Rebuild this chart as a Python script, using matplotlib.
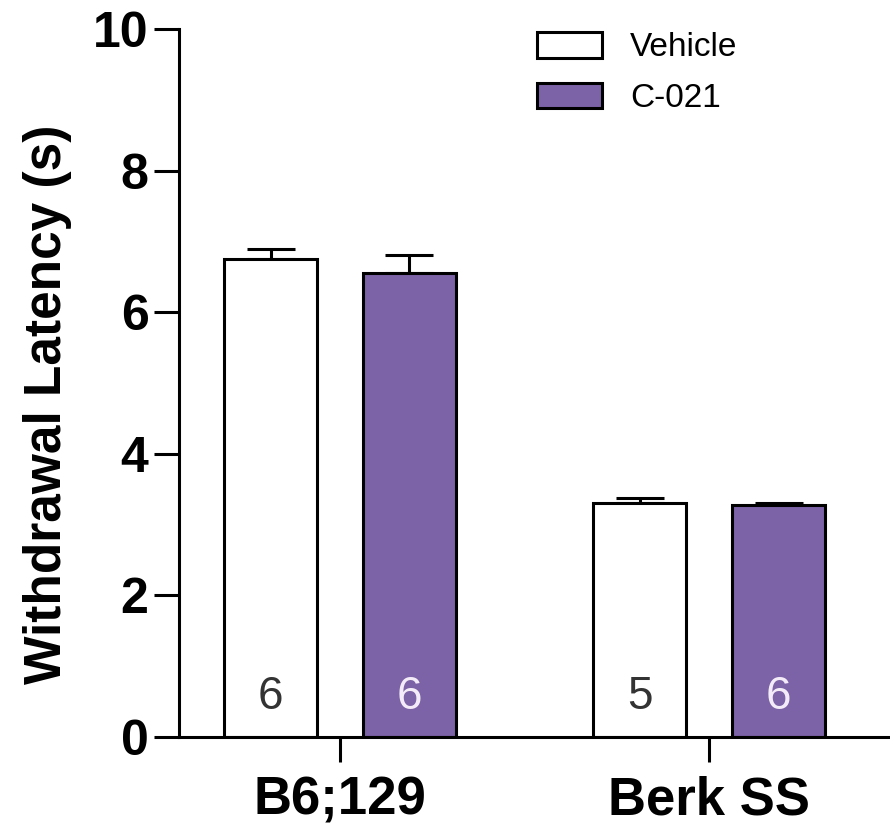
import matplotlib
matplotlib.use("Agg")
import matplotlib.pyplot as plt
from matplotlib.patches import Patch
import numpy as np

# Data
strains = ["B6;129", "Berk SS"]
treatments = ["Vehicle", "C-021"]
vehicle_mean = [6.75, 3.30]
vehicle_sem = [0.14, 0.07]
c021_mean = [6.55, 3.28]
c021_sem = [0.26, 0.03]
vehicle_n = [6, 5]
c021_n = [6, 6]
y_ticks = [0, 2, 4, 6, 8, 10]

purple = "#7C62A6"

plt.rcParams["font.family"] = ["Liberation Sans", "DejaVu Sans"]

fig = plt.figure(figsize=(8.9, 8.26), dpi=100)
ax = fig.add_axes([179 / 890, 89 / 826, 711 / 890, 708 / 826])

x = np.arange(len(strains))
offset = 0.188
width = 0.252
lw = 2.2

ax.bar(x - offset, vehicle_mean, width, color="white", edgecolor="black",
       linewidth=lw, zorder=3, label=treatments[0])
ax.bar(x + offset, c021_mean, width, color=purple, edgecolor="black",
       linewidth=lw, zorder=3, label=treatments[1])

ax.errorbar(x - offset, vehicle_mean, yerr=[np.zeros(len(x)), vehicle_sem],
            fmt="none", ecolor="black", elinewidth=lw, capsize=17, capthick=lw, zorder=2)
ax.errorbar(x + offset, c021_mean, yerr=[np.zeros(len(x)), c021_sem],
            fmt="none", ecolor="black", elinewidth=lw, capsize=17, capthick=lw, zorder=2)

# sample sizes inside bars
for xi, n in zip(x - offset, vehicle_n):
    ax.text(xi, 0.56, str(n), ha="center", va="center", fontsize=33,
            color="#333333", zorder=4)
for xi, n in zip(x + offset, c021_n):
    ax.text(xi, 0.56, str(n), ha="center", va="center", fontsize=33,
            color="#F3ECF8", zorder=4)

ax.set_ylim(0, 10)
ax.set_xlim(-0.436, 1.49)
ax.set_yticks(y_ticks)
ax.set_yticklabels([str(t) for t in y_ticks])
ax.set_xticks(x)
ax.set_xticklabels(strains)

for s in ["top", "right"]:
    ax.spines[s].set_visible(False)
for s in ["left", "bottom"]:
    ax.spines[s].set_linewidth(lw)
    ax.spines[s].set_zorder(5)

ax.tick_params(axis="both", length=18, width=lw, direction="out")
ax.tick_params(axis="y", pad=4, labelsize=36)
ax.tick_params(axis="x", pad=10, labelsize=38)
for lab in ax.get_yticklabels() + ax.get_xticklabels():
    lab.set_fontweight("bold")

ax.set_ylabel("Withdrawal Latency (s)", fontsize=37, fontweight="bold")
ax.yaxis.set_label_coords(-0.150, 0.47)

handles = [Patch(facecolor="white", edgecolor="black", linewidth=lw),
           Patch(facecolor=purple, edgecolor="black", linewidth=lw)]
ax.legend(handles, treatments, loc="upper left",
          bbox_to_anchor=(537 / 890, 1 - 32 / 826), bbox_transform=fig.transFigure,
          frameon=False, fontsize=24, handlelength=1.95, handleheight=0.8,
          labelspacing=0.58, handletextpad=0.85, borderpad=0, borderaxespad=0)

fig.savefig("out.png", dpi=100)
